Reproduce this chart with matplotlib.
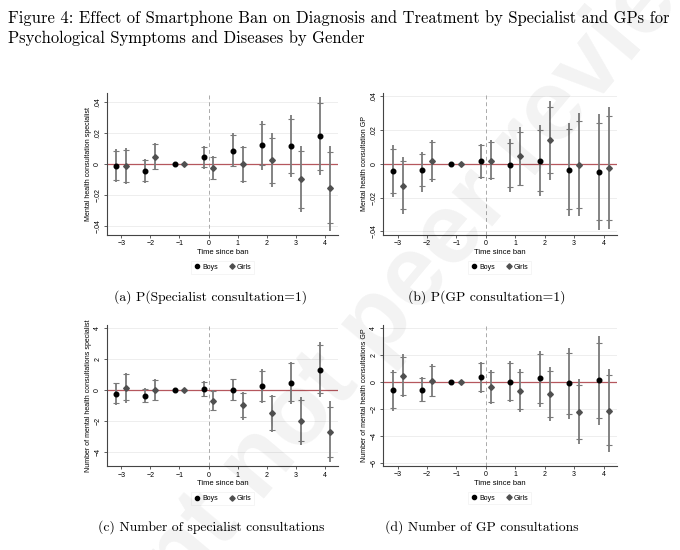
import numpy as np
import matplotlib
matplotlib.use('Agg')
import matplotlib.pyplot as plt
from matplotlib.lines import Line2D

plt.rcParams['font.family'] = ['Liberation Sans', 'DejaVu Sans']

periods = [-3, -2, -1, 0, 1, 2, 3, 4]

# (a) P(Specialist consultation=1)
a_boys = [-0.0013, -0.0043, 0, 0.0045, 0.0087, 0.0123, 0.0117, 0.0181]
a_boys_lo95 = [-0.0115, -0.0119, 0, -0.0030, -0.0019, -0.0034, -0.0081, -0.0070]
a_boys_hi95 = [0.0098, 0.0034, 0, 0.0115, 0.0200, 0.0279, 0.0317, 0.0434]
a_boys_lo90 = [-0.0102, -0.0110, 0, -0.0020, -0.0009, -0.0006, -0.0055, -0.0034]
a_boys_hi90 = [0.0087, 0.0026, 0, 0.0110, 0.0187, 0.0257, 0.0289, 0.0396]
a_girls = [-0.0013, 0.0047, 0, -0.0026, 0.0000, 0.0028, -0.0098, -0.0155]
a_girls_lo95 = [-0.0130, -0.0040, 0, -0.0104, -0.0123, -0.0145, -0.0310, -0.0428]
a_girls_hi95 = [0.0104, 0.0140, 0, 0.0055, 0.0121, 0.0200, 0.0115, 0.0119]
a_girls_lo90 = [-0.0115, -0.0030, 0, -0.0094, -0.0106, -0.0121, -0.0279, -0.0381]
a_girls_hi90 = [0.0094, 0.0130, 0, 0.0050, 0.0110, 0.0172, 0.0087, 0.0079]

# (b) P(GP consultation=1)
b_boys = [-0.0042, -0.0034, 0, 0.0016, -0.0006, 0.0020, -0.0034, -0.0046]
b_boys_lo95 = [-0.0196, -0.0166, 0, -0.0089, -0.0164, -0.0192, -0.0311, -0.0390]
b_boys_hi95 = [0.0111, 0.0071, 0, 0.0119, 0.0149, 0.0232, 0.0244, 0.0297]
b_boys_lo90 = [-0.0172, -0.0133, 0, -0.0075, -0.0139, -0.0160, -0.0267, -0.0335]
b_boys_hi90 = [0.0091, 0.0057, 0, 0.0113, 0.0125, 0.0200, 0.0204, 0.0244]
b_girls = [-0.0129, 0.0018, 0, 0.0020, 0.0044, 0.0141, -0.0004, -0.0024]
b_girls_lo95 = [-0.0295, -0.0109, 0, -0.0093, -0.0133, -0.0093, -0.0307, -0.0386]
b_girls_hi95 = [0.0042, 0.0143, 0, 0.0139, 0.0218, 0.0372, 0.0303, 0.0335]
b_girls_lo90 = [-0.0269, -0.0089, 0, -0.0081, -0.0125, -0.0055, -0.0259, -0.0331]
b_girls_hi90 = [0.0020, 0.0131, 0, 0.0127, 0.0190, 0.0337, 0.0255, 0.0281]

# (c) Number of specialist consultations
c_boys = [-0.26, -0.37, 0, 0.04, 0.00, 0.26, 0.45, 1.29]
c_boys_lo95 = [-0.97, -0.86, 0, -0.47, -0.75, -0.86, -0.92, -0.47]
c_boys_hi95 = [0.47, 0.11, 0, 0.54, 0.73, 1.35, 1.83, 3.08]
c_boys_lo90 = [-0.88, -0.77, 0, -0.41, -0.67, -0.69, -0.73, -0.22]
c_boys_hi90 = [0.43, 0.06, 0, 0.49, 0.67, 1.23, 1.72, 2.90]
c_girls = [0.13, -0.02, 0, -0.69, -0.99, -1.50, -2.04, -2.73]
c_girls_lo95 = [-0.82, -0.75, 0, -1.40, -1.94, -2.75, -3.55, -4.69]
c_girls_hi95 = [1.08, 0.69, 0, 0.00, -0.13, -0.32, -0.49, -0.75]
c_girls_lo90 = [-0.65, -0.67, 0, -1.29, -1.78, -2.58, -3.33, -4.37]
c_girls_hi90 = [1.01, 0.62, 0, -0.06, -0.22, -0.43, -0.65, -1.08]

# (d) Number of GP consultations
d_boys = [-0.61, -0.61, 0, 0.37, 0.02, 0.27, -0.10, 0.12]
d_boys_lo95 = [-2.11, -1.50, 0, -0.79, -1.50, -1.82, -2.75, -3.17]
d_boys_hi95 = [0.88, 0.39, 0, 1.50, 1.55, 2.31, 2.50, 3.39]
d_boys_lo90 = [-1.89, -1.37, 0, -0.64, -1.33, -1.57, -2.36, -2.63]
d_boys_hi90 = [0.74, 0.29, 0, 1.40, 1.40, 2.09, 2.16, 2.87]
d_girls = [0.42, 0.10, 0, -0.39, -0.66, -0.88, -2.18, -2.11]
d_girls_lo95 = [-1.13, -1.13, 0, -1.62, -2.18, -2.87, -4.56, -5.18]
d_girls_hi95 = [2.06, 1.30, 0, 0.88, 0.93, 1.08, 0.22, 0.93]
d_girls_lo90 = [-0.98, -1.01, 0, -1.47, -1.99, -2.58, -4.20, -4.66]
d_girls_hi90 = [1.82, 1.18, 0, 0.74, 0.74, 0.81, -0.20, 0.52]

ylabels = ['Mental health consultation specialist', 'Mental health consultation GP',
           'Number of mental health consultations specialist', 'Number of mental health consultations GP']
captions = ['(a) P(Specialist consultation=1)', '(b) P(GP consultation=1)',
            '(c) Number of specialist consultations', '(d) Number of GP consultations']
yticks_small = [-0.04, -0.02, 0, 0.02, 0.04]
yticklabels_small = ['\u2212.04', '\u2212.02', '0', '.02', '.04']
yticks_num_c = [-4, -2, 0, 2, 4]
yticks_num_d = [-6, -4, -2, 0, 2, 4]

LINE = '#7a7a7a'


def draw_panel(ax, boys, blo95, bhi95, blo90, bhi90, girls, glo95, ghi95, glo90, ghi90,
               ylab, ylim, yticks, yticklabels):
    x = np.array(periods, dtype=float)
    off = 0.17
    for xs, est, lo95, hi95, lo90, hi90, mk, col, ms in [
            (x - off, boys, blo95, bhi95, blo90, bhi90, 'o', 'black', 3.3),
            (x + off, girls, glo95, ghi95, glo90, ghi90, 'D', '#505050', 2.9)]:
        ax.vlines(xs, lo95, hi95, color=LINE, lw=1.3, zorder=3)
        ax.plot(xs, lo90, ls='none', marker='_', ms=4, mew=0.8, color=LINE, zorder=3)
        ax.plot(xs, hi90, ls='none', marker='_', ms=4, mew=0.8, color=LINE, zorder=3)
        ax.plot(xs, est, ls='none', marker=mk, ms=ms, color=col, zorder=4)
    ax.axhline(0, color='#b5575d', lw=0.9, zorder=2)
    ax.axvline(0, color='#aaaaaa', lw=0.7, ls=(0, (4, 3)), zorder=1)
    ax.set_xlim(-3.5, 4.45)
    ax.set_ylim(*ylim)
    ax.set_xticks([-3, -2, -1, 0, 1, 2, 3, 4])
    ax.set_xticklabels(['\u22123', '\u22122', '\u22121', '0', '1', '2', '3', '4'])
    ax.set_yticks(yticks)
    ax.set_yticklabels(yticklabels, rotation=90, va='center')
    ax.yaxis.grid(True, color='#ebebeb', lw=0.6)
    ax.set_axisbelow(True)
    for s in ['top', 'right']:
        ax.spines[s].set_visible(False)
    for s in ['left', 'bottom']:
        ax.spines[s].set_color('#444444')
        ax.spines[s].set_linewidth(0.8)
    ax.tick_params(labelsize=5, length=2.5, width=0.6, color='#444444', pad=1.5)
    ax.set_xlabel('Time since ban', fontsize=5.5, labelpad=1)
    ax.set_ylabel(ylab, fontsize=5, labelpad=1.5)
    handles = [Line2D([], [], ls='none', marker='o', ms=3.0, color='black'),
               Line2D([], [], ls='none', marker='D', ms=2.7, color='#505050')]
    leg = ax.legend(handles, ['Boys', 'Girls'], loc='upper center', bbox_to_anchor=(0.5, -0.16),
                    ncol=2, fontsize=5, frameon=True, fancybox=False, handletextpad=0.2,
                    columnspacing=1.5, borderpad=0.4, handlelength=1.0)
    leg.get_frame().set_edgecolor('#eeeeee')
    leg.get_frame().set_linewidth(0.5)


fig = plt.figure(figsize=(6.8, 5.5), dpi=100)
pos = [[0.157, 0.573, 0.340, 0.258], [0.563, 0.573, 0.344, 0.258],
       [0.157, 0.152, 0.340, 0.257], [0.563, 0.153, 0.344, 0.256]]
axes = [fig.add_axes(p) for p in pos]

draw_panel(axes[0], a_boys, a_boys_lo95, a_boys_hi95, a_boys_lo90, a_boys_hi90,
           a_girls, a_girls_lo95, a_girls_hi95, a_girls_lo90, a_girls_hi90,
           ylabels[0], (-0.0455, 0.046), yticks_small, yticklabels_small)
draw_panel(axes[1], b_boys, b_boys_lo95, b_boys_hi95, b_boys_lo90, b_boys_hi90,
           b_girls, b_girls_lo95, b_girls_hi95, b_girls_lo90, b_girls_hi90,
           ylabels[1], (-0.042, 0.042), yticks_small, yticklabels_small)
draw_panel(axes[2], c_boys, c_boys_lo95, c_boys_hi95, c_boys_lo90, c_boys_hi90,
           c_girls, c_girls_lo95, c_girls_hi95, c_girls_lo90, c_girls_hi90,
           ylabels[2], (-4.95, 4.19), yticks_num_c, ['\u22124', '\u22122', '0', '2', '4'])
draw_panel(axes[3], d_boys, d_boys_lo95, d_boys_hi95, d_boys_lo90, d_boys_hi90,
           d_girls, d_girls_lo95, d_girls_hi95, d_girls_lo90, d_girls_hi90,
           ylabels[3], (-6.18, 4.2), yticks_num_d, ['\u22126', '\u22124', '\u22122', '0', '2', '4'])

serif = 'cmr10'
fig.text(0.012, 0.967, 'Figure 4: Effect of Smartphone Ban on Diagnosis and Treatment by Specialist and GPs for',
         family=serif, fontsize=11.9, va='center', ha='left')
fig.text(0.012, 0.931, 'Psychological Symptoms and Diseases by Gender',
         family=serif, fontsize=11.9, va='center', ha='left')
cap_xy = [(0.309, 0.46), (0.716, 0.46), (0.310, 0.042), (0.709, 0.042)]
for (cx, cy), cap in zip(cap_xy, captions):
    fig.text(cx, cy, cap, family=serif, fontsize=9.8, ha='center', va='center')

# watermark
fig.text(0.56, 0.42, 'Preprint not peer reviewed', fontsize=72, rotation=50, color='black',
         alpha=0.05, ha='center', va='center', fontweight='bold')

fig.savefig('out.png', dpi=100)
